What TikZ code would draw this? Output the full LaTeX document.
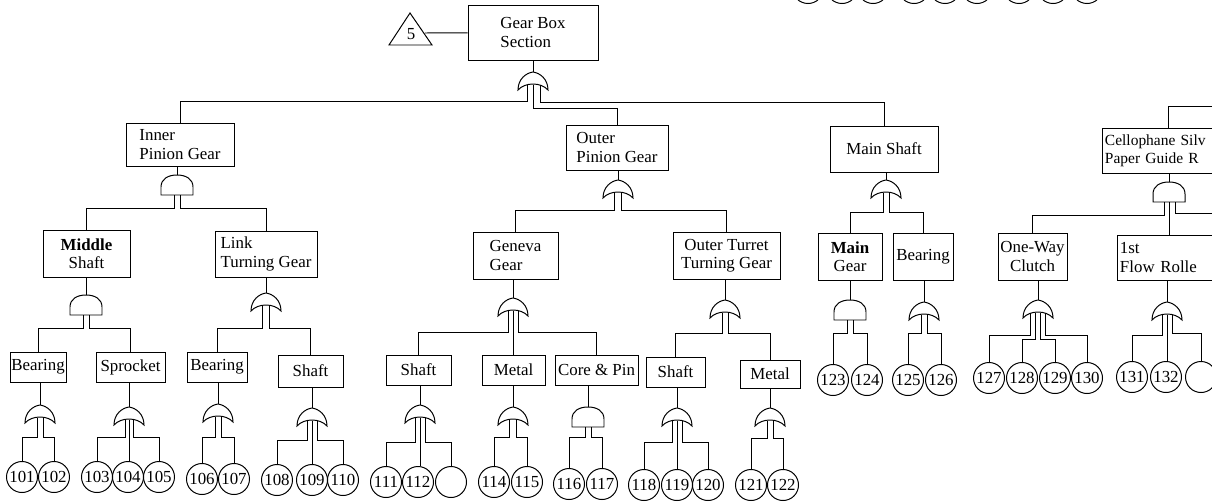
\documentclass[tikz,border=0pt]{standalone}
\usepackage{fontspec}
\setmainfont{Liberation Serif}
\usetikzlibrary{calc}
\tikzset{
  ev/.style={draw, inner sep=0pt, align=center},
  sz/.style 2 args={minimum width=#1*0.025cm, minimum height=#2*0.025cm},
  bev/.style={draw, circle, inner sep=0pt, minimum size=0.775cm},
  orgate/.pic={
    \draw (-15,18) .. controls (-15,7) and (-7,1) .. (0,0)
      .. controls (7,1) and (15,7) .. (15,18)
      .. controls (8,10) and (-8,10) .. (-15,18) -- cycle;
    \coordinate (-top) at (0,0);
    \coordinate (-in) at (0,12.5);
  },
  andgate/.pic={
    \draw (-16,20) -- (-16,12) .. controls (-16,4) and (-9,0) .. (0,0)
      .. controls (9,0) and (16,4) .. (16,12) -- (16,20) -- cycle;
    \coordinate (-top) at (0,0);
    \coordinate (-in) at (0,20);
  },
}
\begin{document}
\begin{tikzpicture}[x=0.025cm, y=-0.025cm, line width=0.7pt, font=\fontsize{12}{13}\selectfont]
\useasboundingbox (0,0) rectangle (1212,501);
\clip (0,0) rectangle (1212,501);
\foreach \cx in {808,842,873,914,945,977,1019,1053,1087}
  \draw (\cx,-12) circle[radius=0.3875cm];
\node[ev, sz={130}{55}, align=left] (gbs) at (533,32.5) {Gear Box\\Section};
\draw (389,45) -- (410,13) -- (432,45) -- cycle;
\node (five) at (411,34) {5};
\coordinate (tri) at (425,33);
\draw (tri) -- (gbs);
\node[ev, sz={108}{43}, align=left] (ipg) at (180,144.5) {Inner\\Pinion Gear};
\node[ev, sz={102}{45}, align=left] (opg) at (617,147.5) {Outer\\Pinion Gear};
\node[ev, sz={108}{46}] (msh) at (884,149) {Main Shaft};
\node[ev, text width=3.15cm, inner xsep=0.075cm, minimum height=1.125cm, align=left, font=\fontsize{11}{13}\selectfont] (cel) at (1168,150.5) {Cellophane Silv\\Paper Guide R};
\node[ev, sz={87}{47}] (mid) at (86.5,253.5) {\textbf{Middle}\\Shaft};
\node[ev, sz={102}{46}, align=left] (ltg) at (266,254) {Link\\Turning Gear};
\node[ev, sz={85}{47}, align=left] (gen) at (515.5,255.5) {Geneva\\Gear};
\node[ev, sz={107}{47}] (otg) at (726.5,255.5) {Outer Turret\\Turning Gear};
\node[ev, sz={64}{47}] (mng) at (850,256.5) {\textbf{Main}\\Gear};
\node[ev, sz={60}{47}] (brg3) at (923,256.5) {Bearing};
\node[ev, sz={69}{47}] (owc) at (1032.5,256.5) {One-Way\\Clutch};
\node[ev, text width=2.4cm, inner xsep=0.075cm, minimum height=1.125cm, align=left] (flr) at (1168,257.5) {1st\\Flow Rolle};
\node[ev, sz={56}{30}] (brg1) at (38,367) {Bearing};
\node[ev, sz={69}{30}] (spr) at (130.5,367) {Sprocket};
\node[ev, sz={60}{30}] (brg2) at (217,367) {Bearing};
\node[ev, sz={65}{32}] (sft1) at (310.5,371) {Shaft};
\node[ev, sz={65}{30}] (sft2) at (418.5,370) {Shaft};
\node[ev, sz={63}{30}] (mtl1) at (513.5,370) {Metal};
\node[ev, sz={83}{30}] (cpn) at (596.5,370) {Core \& Pin};
\node[ev, sz={59}{30}] (sft3) at (675.5,372) {Shaft};
\node[ev, sz={60}{28}] (mtl2) at (770,374) {Metal};
\foreach \n/\cx/\cy in {101/22/477, 102/54/477, 103/97/477, 104/128/477, 105/159/477,
    106/202/479, 107/234/479, 108/277/480, 109/312/480, 110/343/480,
    111/386/482, 112/418/482, 114/494/482, 115/527/482, 116/569/484, 117/602/484,
    118/644/485, 119/677/485, 120/708/485, 121/751/485, 122/783/485,
    123/833/380, 124/867/380, 125/908/380, 126/941/380,
    127/989/378, 128/1022/378, 129/1055/378, 130/1087/378, 131/1132/377, 132/1166/377}
  \node[bev] (c\n) at (\cx,\cy) {\n};
\node[bev] (c113) at (451,482) {};
\node[bev] (c133) at (1201,377) {};
\pic (g0) at (533,72) {orgate};
\pic (gip) at (177,175) {andgate};
\pic (gop) at (618,180) {orgate};
\pic (gmsh) at (886,180) {orgate};
\pic (gcel) at (1169,182) {andgate};
\pic (gms) at (86,295) {andgate};
\pic (glt) at (266,293) {orgate};
\pic (ggen) at (513,298) {orgate};
\pic (got) at (725,300) {orgate};
\pic (gmg) at (850,300) {andgate};
\pic (gb3) at (924,302) {orgate};
\pic (goc) at (1038,300) {orgate};
\pic (gfl) at (1167,302) {orgate};
\pic (gb1) at (40,405) {orgate};
\pic (gsp) at (129,407) {orgate};
\pic (gb2) at (218,404) {orgate};
\pic (gs1) at (312,408) {orgate};
\pic (gs2) at (420,405) {orgate};
\pic (gm1) at (513,407) {orgate};
\pic (gcp) at (588,407) {andgate};
\pic (gs3) at (677,408) {orgate};
\pic (gm2) at (770,408) {orgate};
\draw (g0-top) -- (g0-top |- gbs.south);
\draw (gip-top) -- (gip-top |- ipg.south);
\draw (gop-top) -- (gop-top |- opg.south);
\draw (gmsh-top) -- (gmsh-top |- msh.south);
\draw (gcel-top) -- (gcel-top |- cel.south);
\draw (gms-top) -- (gms-top |- mid.south);
\draw (glt-top) -- (glt-top |- ltg.south);
\draw (ggen-top) -- (ggen-top |- gen.south);
\draw (got-top) -- (got-top |- otg.south);
\draw (gmg-top) -- (gmg-top |- mng.south);
\draw (gb3-top) -- (gb3-top |- brg3.south);
\draw (goc-top) -- (goc-top |- owc.south);
\draw (gfl-top) -- (gfl-top |- flr.south);
\draw (gb1-top) -- (gb1-top |- brg1.south);
\draw (gsp-top) -- (gsp-top |- spr.south);
\draw (gb2-top) -- (gb2-top |- brg2.south);
\draw (gs1-top) -- (gs1-top |- sft1.south);
\draw (gs2-top) -- (gs2-top |- sft2.south);
\draw (gm1-top) -- (gm1-top |- mtl1.south);
\draw (gcp-top) -- (gcp-top |- cpn.south);
\draw (gs3-top) -- (gs3-top |- sft3.south);
\draw (gm2-top) -- (gm2-top |- mtl2.south);
\draw ($(g0-in)+(-6,0)$) -- ++(0,16.5) -| (ipg);
\draw ($(g0-in)+(0,0)$) -- ++(0,23.5) -| (opg);
\draw ($(g0-in)+(7,0)$) -- ++(0,17.5) -| (msh);
\coordinate (celfeed) at (1215,106);
\draw (celfeed) -| (cel);
\draw ($(gip-in)+(-3,0)$) -- ++(0,13) -| (mid);
\draw ($(gip-in)+(3,0)$) -- ++(0,13) -| (ltg);
\draw ($(gop-in)+(-3.5,0)$) -- ++(0,17.5) -| (gen);
\draw ($(gop-in)+(3.5,0)$) -- ++(0,17.5) -| (otg);
\draw ($(gmsh-in)+(-3,0)$) -- ++(0,19.5) -| (mng);
\draw ($(gmsh-in)+(3,0)$) -- ++(0,19.5) -| (brg3);
\coordinate (celR) at (1215,213);
\draw ($(gcel-in)+(-5,0)$) -- ++(0,13) -| (owc);
\draw (gcel-in) -- (gcel-in |- flr.north);
\draw ($(gcel-in)+(6,0)$) |- (celR);
\draw ($(gms-in)+(-3,0)$) -- ++(0,13) -| (brg1);
\draw ($(gms-in)+(3,0)$) -- ++(0,13) -| (spr);
\draw ($(glt-in)+(-3.5,0)$) -- ++(0,22.5) -| (brg2);
\draw ($(glt-in)+(3.5,0)$) -- ++(0,22.5) -| (sft1);
\draw ($(ggen-in)+(-5,0)$) -- ++(0,21.5) -| (sft2);
\draw (ggen-in) -- (ggen-in |- mtl1.north);
\draw ($(ggen-in)+(5,0)$) -- ++(0,21.5) -| (cpn);
\draw ($(got-in)+(-3,0)$) -- ++(0,20.5) -| (sft3);
\draw ($(got-in)+(3,0)$) -- ++(0,20.5) -| (mtl2);
\draw ($(gb1-in)+(-3,0)$) -- ++(0,19.5) -| (c101);
\draw ($(gb1-in)+(3,0)$) -- ++(0,19.5) -| (c102);
\draw ($(gsp-in)+(-4,0)$) -- ++(0,17.5) -| (c103);
\draw (gsp-in) -- (gsp-in |- c104.north);
\draw ($(gsp-in)+(4,0)$) -- ++(0,17.5) -| (c105);
\draw ($(gb2-in)+(-3,0)$) -- ++(0,20.5) -| (c106);
\draw ($(gb2-in)+(3,0)$) -- ++(0,20.5) -| (c107);
\draw ($(gs1-in)+(-5,0)$) -- ++(0,19.5) -| (c108);
\draw (gs1-in) -- (gs1-in |- c109.north);
\draw ($(gs1-in)+(5,0)$) -- ++(0,19.5) -| (c110);
\draw ($(gs2-in)+(-5,0)$) -- ++(0,24.5) -| (c111);
\draw (gs2-in) -- (gs2-in |- c112.north);
\draw ($(gs2-in)+(5,0)$) -- ++(0,24.5) -| (c113);
\draw ($(gm1-in)+(-3.5,0)$) -- ++(0,17.5) -| (c114);
\draw ($(gm1-in)+(3.5,0)$) -- ++(0,17.5) -| (c115);
\draw ($(gcp-in)+(-3,0)$) -- ++(0,10) -| (c116);
\draw ($(gcp-in)+(3,0)$) -- ++(0,10) -| (c117);
\draw ($(gs3-in)+(-5,0)$) -- ++(0,21.5) -| (c118);
\draw (gs3-in) -- (gs3-in |- c119.north);
\draw ($(gs3-in)+(5,0)$) -- ++(0,21.5) -| (c120);
\draw ($(gm2-in)+(-3,0)$) -- ++(0,17.5) -| (c121);
\draw ($(gm2-in)+(3,0)$) -- ++(0,17.5) -| (c122);
\draw ($(gmg-in)+(-3,0)$) -- ++(0,13) -| (c123);
\draw ($(gmg-in)+(3,0)$) -- ++(0,13) -| (c124);
\draw ($(gb3-in)+(-3,0)$) -- ++(0,18.5) -| (c125);
\draw ($(gb3-in)+(3,0)$) -- ++(0,18.5) -| (c126);
\draw ($(goc-in)+(-7.5,0)$) -- ++(0,22.5) -| (c127);
\draw ($(goc-in)+(-2.5,0)$) -- ++(0,26.5) -| (c128);
\draw ($(goc-in)+(2.5,0)$) -- ++(0,26.5) -| (c129);
\draw ($(goc-in)+(7.5,0)$) -- ++(0,22.5) -| (c130);
\draw ($(gfl-in)+(-5,0)$) -- ++(0,20.5) -| (c131);
\draw (gfl-in) -- (gfl-in |- c132.north);
\draw ($(gfl-in)+(5,0)$) -- ++(0,18.5) -| (c133);
\end{tikzpicture}
\end{document}
